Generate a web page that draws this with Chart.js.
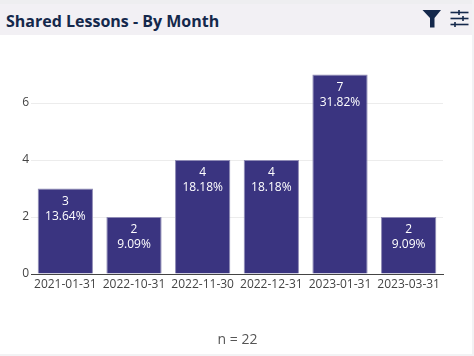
<!DOCTYPE html>
<html><head><meta charset="utf-8">
<style>
html,body{margin:0;padding:0;background:#fff;width:474px;height:356px;overflow:hidden}
#wrap{position:relative;width:474px;height:356px}
#head{position:absolute;left:0;top:4px;width:474px;height:31px;background:#f2f0f4}
#top{position:absolute;left:0;top:0;width:474px;height:4px;background:#eeeef0}
#edgeR{position:absolute;left:472px;top:0;width:2px;height:356px;background:#f2f2f4}
#edgeB{position:absolute;left:0;top:354px;width:474px;height:2px;background:#f2f2f4}
#title{position:absolute;left:6px;top:11px;font:700 16px/20px "Open Sans",sans-serif;color:#14284b;white-space:nowrap}
#icons{position:absolute;left:420px;top:8px}
#c{position:absolute;left:0;top:0}
</style></head><body>
<div id="wrap">
<div id="top"></div><div id="head"></div><div id="edgeR"></div><div id="edgeB"></div>
<div id="title">Shared Lessons - By Month</div>
<svg id="icons" width="50" height="22" viewBox="0 0 50 22">
<path d="M2.5 2H21L14.5 10V19.5H10V10Z" fill="#14284b"/>
<g stroke="#14284b" stroke-width="1.6"><line x1="30.5" y1="4.5" x2="48.5" y2="4.5"/><line x1="30.5" y1="10.5" x2="48.5" y2="10.5"/><line x1="30.5" y1="16.5" x2="48.5" y2="16.5"/><line x1="39" y1="2" x2="39" y2="7"/><line x1="43" y1="8" x2="43" y2="13"/><line x1="35" y1="14" x2="35" y2="19"/></g>
</svg>
<canvas id="c" width="474" height="356"></canvas>
</div>
<script src="https://cdn.jsdelivr.net/npm/chart.js@4"></script>
<script>
const categories=["2021-01-31","2022-10-31","2022-11-30","2022-12-31","2023-01-31","2023-03-31"];
const counts=[3,2,4,4,7,2];
const percents=["13.64%","9.09%","18.18%","18.18%","31.82%","9.09%"];
const yTicks=[0,2,4,6];
const footer="n = 22";
const font='"Open Sans",sans-serif';
const barLabels={id:'barLabels',afterDatasetsDraw(ch){
  const c=ch.ctx,m=ch.getDatasetMeta(0);
  c.save();c.fillStyle='#fff';c.font='12px '+font;c.textAlign='center';c.textBaseline='middle';
  m.data.forEach((b,i)=>{c.fillText(String(counts[i]),b.x,b.y+13);c.fillText(percents[i],b.x,b.y+28);});
  c.restore();
}};
const footerText={id:'footerText',afterDraw(ch){
  const c=ch.ctx;c.save();c.fillStyle='#555';c.font='14px '+font;c.textAlign='center';c.textBaseline='middle';
  c.fillText(footer,237.5,340);c.restore();
}};
new Chart(document.getElementById('c'),{
 type:'bar',
 data:{labels:categories,datasets:[{data:counts,backgroundColor:'#3a3480',borderColor:'#8f8bb5',borderWidth:{top:1,left:1,right:1,bottom:0},barPercentage:0.805,categoryPercentage:1}]},
 options:{responsive:false,animation:false,
  layout:{padding:0},
  plugins:{legend:{display:false},tooltip:{enabled:false}},
  scales:{
   x:{position:'bottom',grid:{display:false,drawTicks:false},border:{color:'#444',width:1},
      ticks:{color:'#444',font:{family:font,size:12},padding:3,maxRotation:0,autoSkip:false}},
   y:{min:0,max:8,afterBuildTicks(a){a.ticks=yTicks.map(v=>({value:v}));},
      grid:{color:'#ececec',drawTicks:false},border:{display:false},
      ticks:{color:'#444',font:{family:font,size:12},padding:2}}
  }},
 plugins:[barLabels,footerText,{id:'box',afterLayout(ch){
   const x=ch.scales.x,y=ch.scales.y;
   x.left=31;x.right=443;x.width=412;x.top=274;x.bottom=292;
   y.left=0;y.right=31;y.top=46;y.bottom=274;y.height=228;
   ch.chartArea.left=31;ch.chartArea.right=443;ch.chartArea.top=46;ch.chartArea.bottom=274;ch.chartArea.width=412;ch.chartArea.height=228;
   x.configure&&x.configure();y.configure&&y.configure();
 }}]
});
</script></body></html>
